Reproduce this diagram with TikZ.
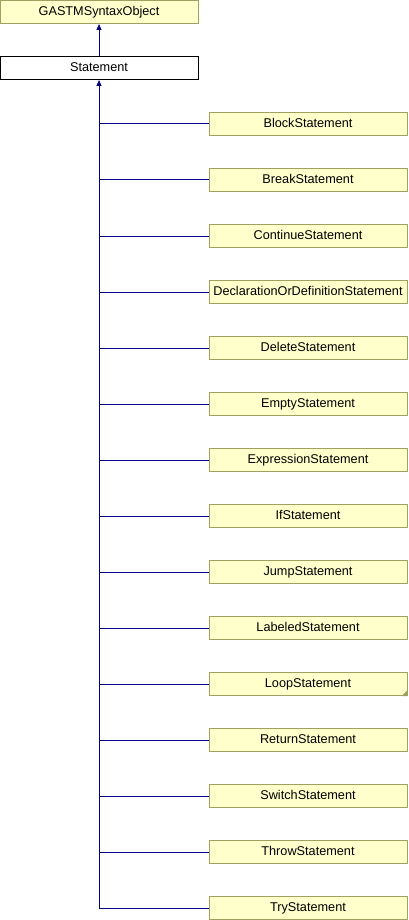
\documentclass[tikz,border=0pt]{standalone}
\usepackage{fontspec}
\setmainfont{Liberation Sans}
\usetikzlibrary{arrows.meta}
\definecolor{boxfill}{HTML}{FFFFCC}
\definecolor{boxline}{HTML}{A0A060}
\definecolor{edgeblue}{HTML}{000080}
\tikzset{
  classbox/.style={draw=boxline, fill=boxfill, line width=1pt, minimum width=198pt,
    minimum height=23pt, inner sep=0pt, text height=9pt, text depth=2.5pt,
    font=\fontsize{12.7}{15}\selectfont},
  mainbox/.style={classbox, draw=black, fill=white},
  inherit/.style={edgeblue, line width=1pt, {Triangle[length=6pt,width=5pt]}-},
}
\begin{document}
\begin{tikzpicture}[x=1pt, y=-1pt]
  \useasboundingbox (0,0) rectangle (408,920);
  \node[classbox] (gastm) at (99,12) {GASTMSyntaxObject};
  \node[mainbox] (stmt) at (99,68) {Statement};
  \draw[inherit] (gastm.south) -- (stmt.north);
  \foreach \name [count=\i from 0] in {BlockStatement, BreakStatement,
      ContinueStatement, DeclarationOrDefinitionStatement, DeleteStatement,
      EmptyStatement, ExpressionStatement, IfStatement, JumpStatement,
      LabeledStatement, LoopStatement, ReturnStatement, SwitchStatement,
      ThrowStatement, TryStatement} {
    \node[classbox] (child\i) at (308,124+56*\i) {\name};
    \draw[edgeblue, line width=1pt] (child\i.west) -- (child\i.west -| stmt.south);
  }
  \draw[inherit] (stmt.south) -- (child14.west -| stmt.south);
  % dog-ear on LoopStatement
  \fill[boxline] (child10.south east) -- ++(-6,0) -- ++(6,-6) -- cycle;
\end{tikzpicture}
\end{document}
